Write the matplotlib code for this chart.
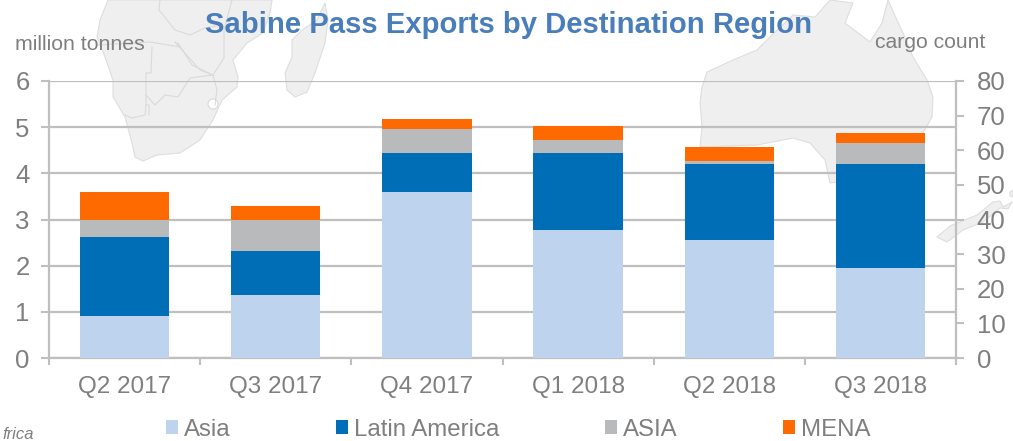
"""
Sabine Pass exports by destination region, stacked bars over a pale map.
"""
import numpy as np
import matplotlib
matplotlib.use("Agg")
import matplotlib.pyplot as plt
from matplotlib.patches import Polygon

plt.rcParams['font.family'] = ['Liberation Sans', 'DejaVu Sans']

quarters = ['Q2 2017', 'Q3 2017', 'Q4 2017', 'Q1 2018', 'Q2 2018', 'Q3 2018']
asia = [0.91, 1.36, 3.60, 2.77, 2.55, 1.95]
latin_america = [1.71, 0.96, 0.83, 1.66, 1.65, 2.25]
asia_other = [0.38, 0.68, 0.52, 0.30, 0.07, 0.45]
mena = [0.60, 0.30, 0.22, 0.30, 0.30, 0.22]

series_names = ['Asia', 'Latin America', 'ASIA', 'MENA']
series_colors = ['#BDD3EE', '#006EB6', '#B9BABC', '#FF6A00']

left_ticks = [0, 1, 2, 3, 4, 5, 6]
right_ticks = [0, 10, 20, 30, 40, 50, 60, 70, 80]

# background map outlines, picture pixels
africa = [(108, 0), (100, 20), (97, 37), (105, 57), (113, 80), (113, 97), (125, 117),
          (132, 143), (135, 157), (143, 161), (157, 155), (180, 153), (200, 140),
          (213, 120), (222, 100), (237, 87), (238, 77), (233, 60), (247, 43), (263, 33),
          (270, 13), (272, 0)]
madagascar = [(325, 3), (328, 20), (325, 43), (315, 73), (307, 92), (295, 97), (287, 90),
              (285, 73), (292, 57), (292, 40), (302, 30), (317, 20)]
australia = [(815, 17), (830, 0), (853, 3), (845, 23), (870, 42), (882, 23), (888, 0),
             (897, 20), (903, 33), (913, 57), (927, 80), (933, 97), (932, 117), (923, 133),
             (913, 145), (890, 165), (860, 180), (830, 183), (825, 160), (810, 143),
             (793, 138), (757, 145), (700, 147), (702, 127), (700, 103), (702, 87),
             (707, 72), (733, 60), (757, 50), (770, 37), (793, 15)]
new_zealand = [(937, 237), (950, 226), (977, 215), (993, 202), (1000, 201), (1003, 207),
               (1012, 202), (1008, 209), (1000, 208), (983, 222), (963, 230), (947, 242)]
new_zealand_north = [(1010, 192), (1013, 190), (1013, 197), (1010, 196)]
borders = [
    [(160, 0), (159, 10), (175, 30), (190, 35), (205, 28), (222, 25)],
    [(97, 45), (150, 42), (180, 47), (175, 42), (200, 70), (213, 75)],
    [(152, 47), (151, 73), (146, 73), (146, 105), (149, 105), (149, 115)],
    [(178, 43), (192, 65), (213, 75), (224, 58), (224, 30), (232, 0)],
    [(146, 95), (155, 105), (165, 95), (178, 97), (190, 78), (213, 75), (217, 90), (215, 105)],
    [(125, 115), (132, 118), (145, 115), (146, 105)],
]

fig = plt.figure(figsize=(10.13, 4.41), dpi=100)

# map sits in a full-figure pixel axes behind the chart
bg = fig.add_axes([0, 0, 1, 1], zorder=0)
bg.set_xlim(0, 1013)
bg.set_ylim(441, 0)
bg.axis('off')
for shape in [africa, madagascar, australia, new_zealand, new_zealand_north]:
    bg.add_patch(Polygon(shape, closed=True, facecolor='#EFEFEF', edgecolor='#DEDEDE', linewidth=0.8))
for line in borders:
    xs, ys = zip(*line)
    bg.plot(xs, ys, color='#DADADA', linewidth=0.8)
bg.add_patch(plt.Circle((213, 104), 5, facecolor='white', edgecolor='#DADADA', linewidth=0.8))

ax = fig.add_axes([49 / 1013, 1 - 358 / 441, (956 - 49) / 1013, 277 / 441], zorder=1)
ax.patch.set_alpha(0)

x = np.arange(len(quarters))
bottom = np.zeros(len(quarters))
for values, name, color in zip([asia, latin_america, asia_other, mena], series_names, series_colors):
    ax.bar(x, values, width=0.59, bottom=bottom, color=color, label=name, zorder=3)
    bottom += np.array(values)

ax.set_xlim(-0.5, 5.5)
ax.set_ylim(0, 6)
ax.set_yticks(left_ticks)
ax.set_xticks(x)
ax.set_xticklabels(quarters)
ax.grid(True, axis='y', color='#BFBFBF', linewidth=1.6, zorder=1)
ax.set_axisbelow(True)

# category separators rather than centred tick marks
ax.set_xticks(np.arange(-0.5, 6, 1), minor=True)
ax.tick_params(axis='x', which='major', length=0, labelsize=17.5, labelcolor='#7F7F7F', pad=13)
ax.tick_params(axis='x', which='minor', length=5, width=1.5, color='#BFBFBF')
ax.tick_params(axis='y', length=6, width=1.5, color='#BFBFBF', labelsize=18.5, labelcolor='#7F7F7F', pad=8)

ax.spines['top'].set_visible(False)
for side in ['left', 'bottom', 'right']:
    ax.spines[side].set_color('#BFBFBF')
    ax.spines[side].set_linewidth(1.6)

ax2 = ax.twinx()
ax2.set_ylim(0, 80)
ax2.set_yticks(right_ticks)
ax2.tick_params(axis='y', length=6, width=1.5, color='#BFBFBF', labelsize=18.5, labelcolor='#7F7F7F', pad=9)
for side in ax2.spines:
    ax2.spines[side].set_visible(False)

fig.text(509 / 1013, 1 - 25 / 441, 'Sabine Pass Exports by Destination Region', color='#4A7EBB',
         fontsize=21.1, fontweight='bold', ha='center', va='center', zorder=5)
fig.text(15 / 1013, 1 - 45 / 441, 'million tonnes', color='#7F7F7F', fontsize=15.3, ha='left', va='center', zorder=5)
fig.text(985 / 1013, 1 - 43 / 441, 'cargo count', color='#7F7F7F', fontsize=15.2, ha='right', va='center', zorder=5)
fig.text(2 / 1013, 1 - 439 / 441, 'frica', color='#7F7F7F', fontsize=12, style='italic', ha='left', va='baseline', zorder=5)

handles, labels = ax.get_legend_handles_labels()
fig.legend(handles, labels, loc='center', bbox_to_anchor=(518 / 1013, 1 - 430 / 441), ncol=4, frameon=False,
           fontsize=17.3, labelcolor='#7F7F7F', handlelength=0.52, handleheight=0.52, handletextpad=0.22,
           columnspacing=4.4, borderpad=0)

fig.savefig('out.png', dpi=100)
